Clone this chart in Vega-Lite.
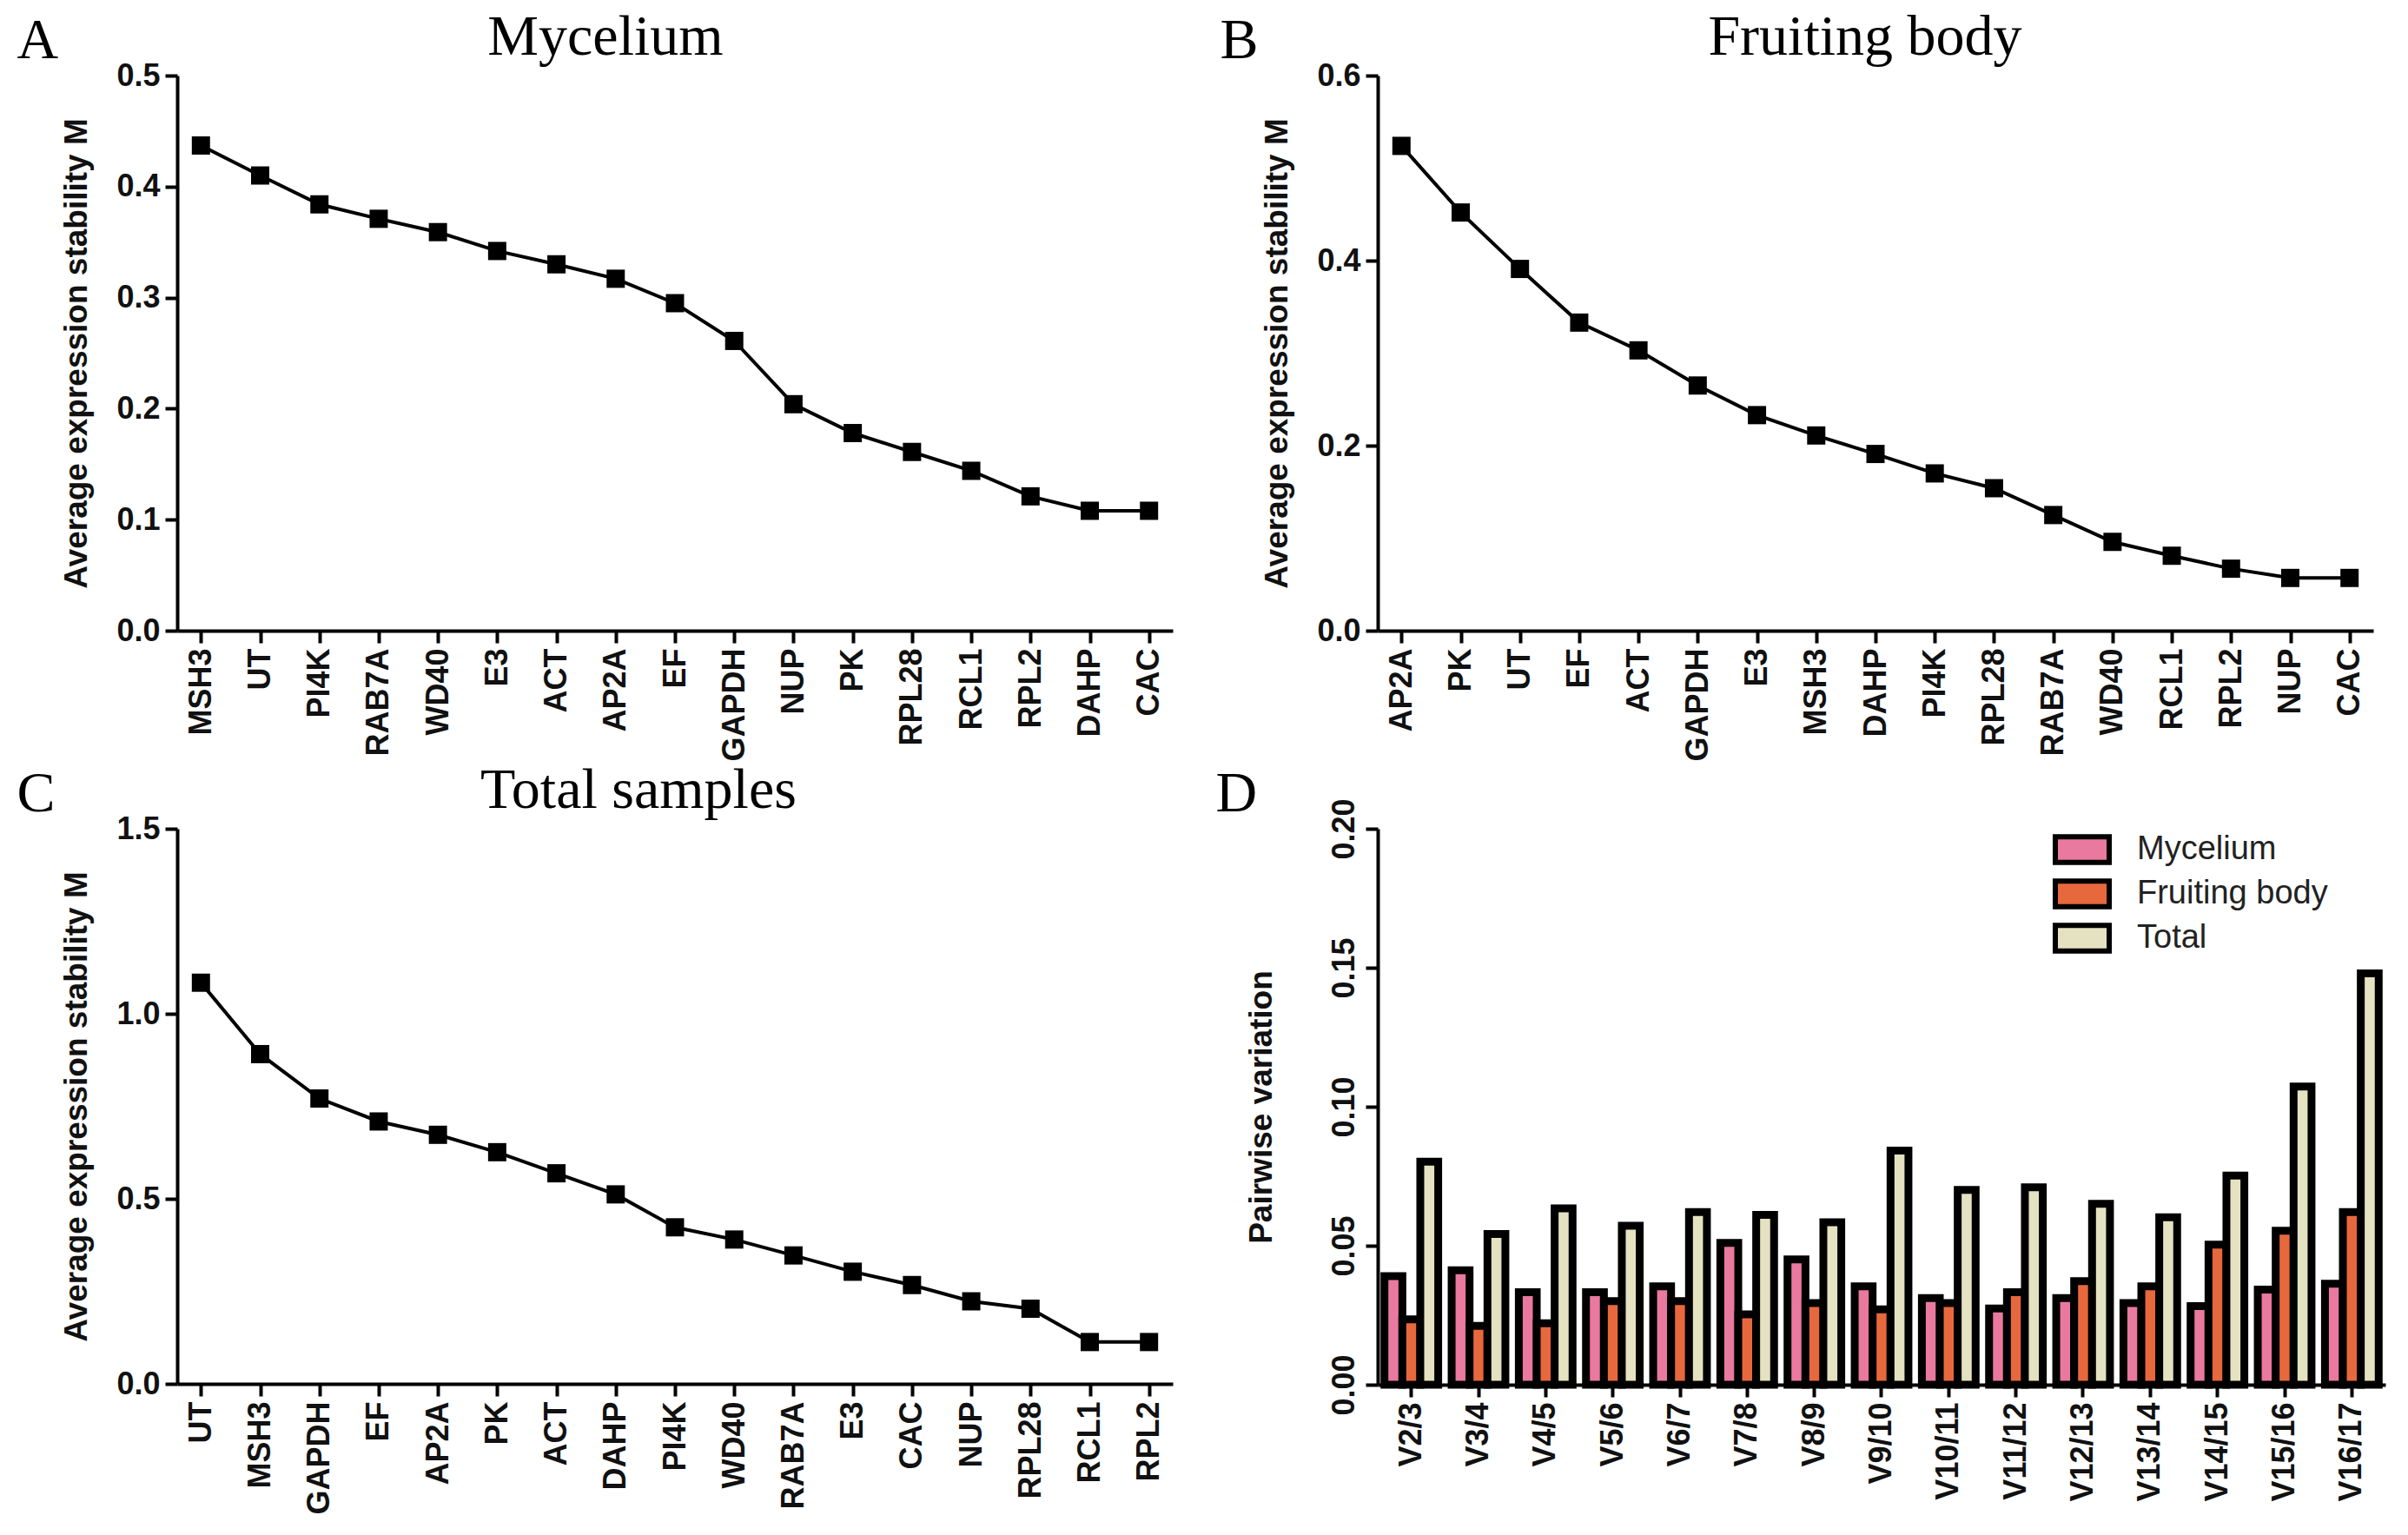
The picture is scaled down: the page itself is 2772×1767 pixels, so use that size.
{
  "$schema": "https://vega.github.io/schema/vega-lite/v6.json",
  "background": "white",
  "padding": {"left": 19, "top": 10, "right": 10, "bottom": 10},
  "config": {
    "view": {"stroke": null},
    "axis": {
      "grid": false,
      "domainColor": "black",
      "domainWidth": 4,
      "tickColor": "black",
      "tickWidth": 4,
      "tickSize": 14,
      "labelFont": "Liberation Sans",
      "labelFontWeight": "bold",
      "labelFontSize": 36,
      "labelColor": "#111111",
      "labelPadding": 6,
      "titleFont": "Liberation Sans",
      "titleFontWeight": "bold",
      "titleFontSize": 37,
      "titleColor": "#111111"
    },
    "title": {
      "font": "Liberation Serif",
      "fontSize": 66,
      "fontWeight": "normal",
      "color": "black",
      "anchor": "middle",
      "frame": "group",
      "baseline": "alphabetic"
    }
  },
  "bounds": "flush",
  "columns": 2,
  "spacing": {"row": 228, "column": 236},
  "resolve": {"legend": {"color": "independent"}},
  "concat": [
    {
      "width": 1146,
      "height": 639,
      "title": {"text": "Mycelium", "dx": -80, "dy": 68},
      "data": {"values": [
        {"gene": "MSH3", "M": 0.437},
        {"gene": "UT", "M": 0.410},
        {"gene": "PI4K", "M": 0.384},
        {"gene": "RAB7A", "M": 0.371},
        {"gene": "WD40", "M": 0.359},
        {"gene": "E3", "M": 0.342},
        {"gene": "ACT", "M": 0.330},
        {"gene": "AP2A", "M": 0.317},
        {"gene": "EF", "M": 0.295},
        {"gene": "GAPDH", "M": 0.261},
        {"gene": "NUP", "M": 0.204},
        {"gene": "PK", "M": 0.178},
        {"gene": "RPL28", "M": 0.161},
        {"gene": "RCL1", "M": 0.144},
        {"gene": "RPL2", "M": 0.121},
        {"gene": "DAHP", "M": 0.108},
        {"gene": "CAC", "M": 0.108}
      ]},
      "layer": [
        {
          "mark": {"type": "line", "color": "black", "strokeWidth": 4},
          "encoding": {
            "x": {"field": "gene", "type": "nominal", "sort": null, "scale": {"type": "point", "padding": 0.4}, "axis": {"labelAngle": -90, "title": null}},
            "y": {"field": "M", "type": "quantitative", "scale": {"domain": [0, 0.5], "nice": false}, "axis": {"values": [0, 0.1, 0.2, 0.3, 0.4, 0.5], "format": ".1f", "title": "Average expression stability M", "titlePadding": 26}}
          }
        },
        {
          "mark": {"type": "point", "shape": "square", "filled": true, "color": "black", "size": 440, "opacity": 1},
          "encoding": {
            "x": {"field": "gene", "type": "nominal", "sort": null, "scale": {"type": "point", "padding": 0.4}, "axis": {"orient": "top", "labels": false, "ticks": false, "domain": false, "title": "A", "titleFont": "Liberation Serif", "titleFontWeight": "normal", "titleFontSize": 66, "titleColor": "black", "titleX": -185, "titleY": -21, "titleAlign": "left", "titleBaseline": "alphabetic", "titleAngle": 0}},
            "y": {"field": "M", "type": "quantitative", "scale": {"domain": [0, 0.5], "nice": false}}
          }
        }
      ],
      "resolve": {"axis": {"x": "independent"}}
    },
    {
      "width": 1146,
      "height": 639,
      "title": {"text": "Fruiting body", "dx": -12, "dy": 68},
      "data": {"values": [
        {"gene": "AP2A", "M": 0.524},
        {"gene": "PK", "M": 0.452},
        {"gene": "UT", "M": 0.391},
        {"gene": "EF", "M": 0.333},
        {"gene": "ACT", "M": 0.303},
        {"gene": "GAPDH", "M": 0.265},
        {"gene": "E3", "M": 0.233},
        {"gene": "MSH3", "M": 0.211},
        {"gene": "DAHP", "M": 0.191},
        {"gene": "PI4K", "M": 0.170},
        {"gene": "RPL28", "M": 0.154},
        {"gene": "RAB7A", "M": 0.125},
        {"gene": "WD40", "M": 0.096},
        {"gene": "RCL1", "M": 0.081},
        {"gene": "RPL2", "M": 0.067},
        {"gene": "NUP", "M": 0.057},
        {"gene": "CAC", "M": 0.057}
      ]},
      "layer": [
        {
          "mark": {"type": "line", "color": "black", "strokeWidth": 4},
          "encoding": {
            "x": {"field": "gene", "type": "nominal", "sort": null, "scale": {"type": "point", "padding": 0.4}, "axis": {"labelAngle": -90, "title": null}},
            "y": {"field": "M", "type": "quantitative", "scale": {"domain": [0, 0.6], "nice": false}, "axis": {"values": [0, 0.2, 0.4, 0.6], "format": ".1f", "title": "Average expression stability M", "titlePadding": 26}}
          }
        },
        {
          "mark": {"type": "point", "shape": "square", "filled": true, "color": "black", "size": 440, "opacity": 1},
          "encoding": {
            "x": {"field": "gene", "type": "nominal", "sort": null, "scale": {"type": "point", "padding": 0.4}, "axis": {"orient": "top", "labels": false, "ticks": false, "domain": false, "title": "B", "titleFont": "Liberation Serif", "titleFontWeight": "normal", "titleFontSize": 66, "titleColor": "black", "titleX": -182, "titleY": -21, "titleAlign": "left", "titleBaseline": "alphabetic", "titleAngle": 0}},
            "y": {"field": "M", "type": "quantitative", "scale": {"domain": [0, 0.6], "nice": false}}
          }
        }
      ],
      "resolve": {"axis": {"x": "independent"}}
    },
    {
      "width": 1146,
      "height": 639,
      "title": {"text": "Total samples", "dx": -42, "dy": 68},
      "data": {"values": [
        {"gene": "UT", "M": 1.084},
        {"gene": "MSH3", "M": 0.891},
        {"gene": "GAPDH", "M": 0.771},
        {"gene": "EF", "M": 0.709},
        {"gene": "AP2A", "M": 0.673},
        {"gene": "PK", "M": 0.626},
        {"gene": "ACT", "M": 0.569},
        {"gene": "DAHP", "M": 0.512},
        {"gene": "PI4K", "M": 0.423},
        {"gene": "WD40", "M": 0.390},
        {"gene": "RAB7A", "M": 0.347},
        {"gene": "E3", "M": 0.303},
        {"gene": "CAC", "M": 0.267},
        {"gene": "NUP", "M": 0.223},
        {"gene": "RPL28", "M": 0.203},
        {"gene": "RCL1", "M": 0.113},
        {"gene": "RPL2", "M": 0.113}
      ]},
      "layer": [
        {
          "mark": {"type": "line", "color": "black", "strokeWidth": 4},
          "encoding": {
            "x": {"field": "gene", "type": "nominal", "sort": null, "scale": {"type": "point", "padding": 0.4}, "axis": {"labelAngle": -90, "title": null}},
            "y": {"field": "M", "type": "quantitative", "scale": {"domain": [0, 1.5], "nice": false}, "axis": {"values": [0, 0.5, 1.0, 1.5], "format": ".1f", "title": "Average expression stability M", "titlePadding": 26}}
          }
        },
        {
          "mark": {"type": "point", "shape": "square", "filled": true, "color": "black", "size": 440, "opacity": 1},
          "encoding": {
            "x": {"field": "gene", "type": "nominal", "sort": null, "scale": {"type": "point", "padding": 0.4}, "axis": {"orient": "top", "labels": false, "ticks": false, "domain": false, "title": "C", "titleFont": "Liberation Serif", "titleFontWeight": "normal", "titleFontSize": 66, "titleColor": "black", "titleX": -185, "titleY": -21, "titleAlign": "left", "titleBaseline": "alphabetic", "titleAngle": 0}},
            "y": {"field": "M", "type": "quantitative", "scale": {"domain": [0, 1.5], "nice": false}}
          }
        }
      ],
      "resolve": {"axis": {"x": "independent"}}
    },
    {
      "width": 1160,
      "height": 640,
      "data": {"values": [
        {"pair": "V2/3", "series": "Mycelium", "v": 0.0391}, {"pair": "V2/3", "series": "Fruiting body", "v": 0.0235}, {"pair": "V2/3", "series": "Total", "v": 0.0802},
        {"pair": "V3/4", "series": "Mycelium", "v": 0.0412}, {"pair": "V3/4", "series": "Fruiting body", "v": 0.0212}, {"pair": "V3/4", "series": "Total", "v": 0.0542},
        {"pair": "V4/5", "series": "Mycelium", "v": 0.0333}, {"pair": "V4/5", "series": "Fruiting body", "v": 0.0221}, {"pair": "V4/5", "series": "Total", "v": 0.0634},
        {"pair": "V5/6", "series": "Mycelium", "v": 0.0333}, {"pair": "V5/6", "series": "Fruiting body", "v": 0.0301}, {"pair": "V5/6", "series": "Total", "v": 0.0572},
        {"pair": "V6/7", "series": "Mycelium", "v": 0.0354}, {"pair": "V6/7", "series": "Fruiting body", "v": 0.0301}, {"pair": "V6/7", "series": "Total", "v": 0.0621},
        {"pair": "V7/8", "series": "Mycelium", "v": 0.0510}, {"pair": "V7/8", "series": "Fruiting body", "v": 0.0253}, {"pair": "V7/8", "series": "Total", "v": 0.0611},
        {"pair": "V8/9", "series": "Mycelium", "v": 0.0451}, {"pair": "V8/9", "series": "Fruiting body", "v": 0.0294}, {"pair": "V8/9", "series": "Total", "v": 0.0584},
        {"pair": "V9/10", "series": "Mycelium", "v": 0.0354}, {"pair": "V9/10", "series": "Fruiting body", "v": 0.0271}, {"pair": "V9/10", "series": "Total", "v": 0.0842},
        {"pair": "V10/11", "series": "Mycelium", "v": 0.0312}, {"pair": "V10/11", "series": "Fruiting body", "v": 0.0294}, {"pair": "V10/11", "series": "Total", "v": 0.0701},
        {"pair": "V11/12", "series": "Mycelium", "v": 0.0274}, {"pair": "V11/12", "series": "Fruiting body", "v": 0.0333}, {"pair": "V11/12", "series": "Total", "v": 0.0710},
        {"pair": "V12/13", "series": "Mycelium", "v": 0.0312}, {"pair": "V12/13", "series": "Fruiting body", "v": 0.0373}, {"pair": "V12/13", "series": "Total", "v": 0.0651},
        {"pair": "V13/14", "series": "Mycelium", "v": 0.0294}, {"pair": "V13/14", "series": "Fruiting body", "v": 0.0354}, {"pair": "V13/14", "series": "Total", "v": 0.0602},
        {"pair": "V14/15", "series": "Mycelium", "v": 0.0283}, {"pair": "V14/15", "series": "Fruiting body", "v": 0.0504}, {"pair": "V14/15", "series": "Total", "v": 0.0752},
        {"pair": "V15/16", "series": "Mycelium", "v": 0.0342}, {"pair": "V15/16", "series": "Fruiting body", "v": 0.0554}, {"pair": "V15/16", "series": "Total", "v": 0.1073},
        {"pair": "V16/17", "series": "Mycelium", "v": 0.0363}, {"pair": "V16/17", "series": "Fruiting body", "v": 0.0621}, {"pair": "V16/17", "series": "Total", "v": 0.1480}
      ]},
      "layer": [
        {
          "mark": {"type": "bar", "stroke": "black", "strokeWidth": 9},
          "encoding": {
            "x": {"field": "pair", "type": "nominal", "sort": null, "scale": {"paddingInner": 0.2, "paddingOuter": 0.1}, "axis": {"labelAngle": -90, "title": null}},
            "xOffset": {"field": "series", "type": "nominal", "sort": ["Mycelium", "Fruiting body", "Total"], "scale": {"paddingInner": 0, "paddingOuter": 0}},
            "y": {"field": "v", "type": "quantitative", "scale": {"domain": [0, 0.2], "nice": false}, "axis": {"values": [0, 0.05, 0.1, 0.15, 0.2], "format": ".2f", "labelAngle": -90, "labelAlign": "center", "labelBaseline": "bottom", "title": "Pairwise variation", "titlePadding": 58}},
            "color": {
              "field": "series", "type": "nominal", "sort": ["Mycelium", "Fruiting body", "Total"],
              "scale": {"domain": ["Mycelium", "Fruiting body", "Total"], "range": ["#E9799F", "#E8683E", "#E5E2C1"]},
              "legend": {"title": null, "orient": "none", "legendX": 792, "legendY": 5, "symbolType": "M-2,-0.95L2,-0.95L2,0.95L-2,0.95Z", "symbolSize": 961, "symbolStrokeColor": "black", "symbolStrokeWidth": 6, "symbolOpacity": 1, "labelFont": "Liberation Sans", "labelFontSize": 38, "labelFontWeight": "normal", "labelColor": "#222222", "labelOffset": 44, "labelLimit": 600, "rowPadding": -3}
            }
          }
        },
        {
          "mark": {"type": "bar", "opacity": 0},
          "encoding": {
            "x": {"field": "pair", "type": "nominal", "sort": null, "scale": {"paddingInner": 0.2, "paddingOuter": 0.1}, "axis": {"orient": "top", "labels": false, "ticks": false, "domain": false, "title": "D", "titleFont": "Liberation Serif", "titleFontWeight": "normal", "titleFontSize": 66, "titleColor": "black", "titleX": -187, "titleY": -21, "titleAlign": "left", "titleBaseline": "alphabetic", "titleAngle": 0}},
            "xOffset": {"field": "series", "type": "nominal", "sort": ["Mycelium", "Fruiting body", "Total"], "scale": {"paddingInner": 0, "paddingOuter": 0}},
            "y": {"field": "v", "type": "quantitative", "scale": {"domain": [0, 0.2], "nice": false}}
          }
        }
      ],
      "resolve": {"axis": {"x": "independent"}}
    }
  ]
}
